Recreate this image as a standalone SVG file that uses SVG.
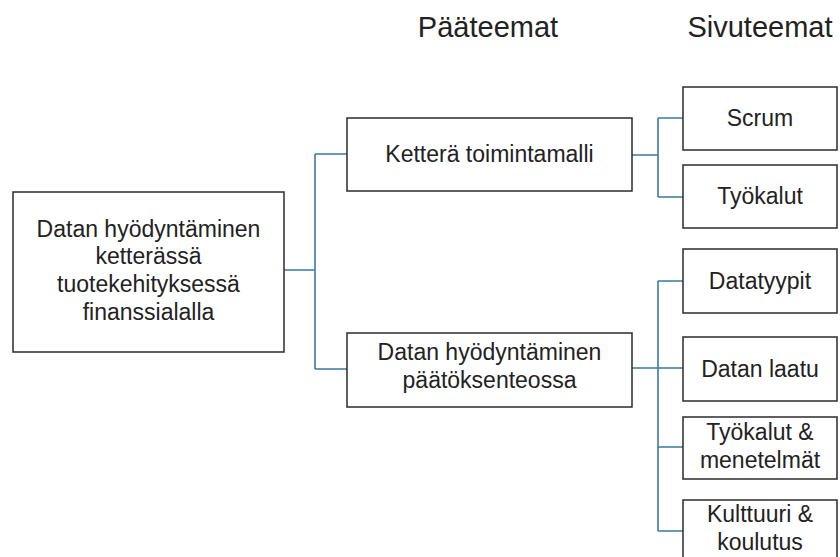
<svg xmlns="http://www.w3.org/2000/svg" width="840" height="557" viewBox="0 0 840 557">
  <style>
    .box { fill: #ffffff; stroke: #2b2b2b; stroke-width: 1.5; }
    .lbl { font-family: "Liberation Sans", Arial, sans-serif; font-size: 23px; fill: #222222; text-anchor: middle; }
    .head { font-family: "Liberation Sans", Arial, sans-serif; font-size: 29px; fill: #222222; text-anchor: middle; }
    .link { fill: none; stroke: #3a7aa0; stroke-width: 1.6; }
  </style>
  <rect width="840" height="557" fill="#ffffff"/>

  <!-- column headings -->
  <text class="head" x="488" y="37">Pääteemat</text>
  <text class="head" x="760" y="37">Sivuteemat</text>

  <!-- tree connectors -->
  <g id="connectors">
    <path class="link" d="M284 270 H315 M315 154 V369 M315 154 H347 M315 369 H347"/>
    <path class="link" d="M632 155 H658 M658 118 V197 M658 118 H683 M658 197 H683"/>
    <path class="link" d="M632 368 H683 M658 281 V531 M658 281 H683 M658 447 H683 M658 531 H683"/>
  </g>

  <g id="root">
    <rect class="box" x="13" y="192" width="271" height="160"/>
    <text class="lbl" x="148.5" y="237">Datan hyödyntäminen</text>
    <text class="lbl" x="148.5" y="264">ketterässä</text>
    <text class="lbl" x="148.5" y="292">tuotekehityksessä</text>
    <text class="lbl" x="148.5" y="320">finanssialalla</text>
  </g>

  <g id="ketteraToimintamalli">
    <rect class="box" x="347" y="118" width="285" height="73"/>
    <text class="lbl" x="489.5" y="162">Ketterä toimintamalli</text>
  </g>

  <g id="datanPaatoksenteossa">
    <rect class="box" x="347" y="333" width="285" height="74"/>
    <text class="lbl" x="489.5" y="360">Datan hyödyntäminen</text>
    <text class="lbl" x="489.5" y="388">päätöksenteossa</text>
  </g>

  <g id="scrum">
    <rect class="box" x="683" y="87" width="154" height="63"/>
    <text class="lbl" x="760" y="126">Scrum</text>
  </g>

  <g id="tyokalut">
    <rect class="box" x="683" y="165" width="154" height="63"/>
    <text class="lbl" x="760" y="204">Työkalut</text>
  </g>

  <g id="datatyypit">
    <rect class="box" x="683" y="249" width="154" height="64"/>
    <text class="lbl" x="760" y="289">Datatyypit</text>
  </g>

  <g id="datanLaatu">
    <rect class="box" x="683" y="337" width="154" height="64"/>
    <text class="lbl" x="760" y="377">Datan laatu</text>
  </g>

  <g id="tyokalutMenetelmat">
    <rect class="box" x="683" y="417" width="154" height="62"/>
    <text class="lbl" x="760" y="440">Työkalut &amp;</text>
    <text class="lbl" x="760" y="468">menetelmät</text>
  </g>

  <g id="kulttuuriKoulutus">
    <rect class="box" x="683" y="500" width="154" height="62"/>
    <text class="lbl" x="760" y="522">Kulttuuri &amp;</text>
    <text class="lbl" x="760" y="550">koulutus</text>
  </g>
</svg>
